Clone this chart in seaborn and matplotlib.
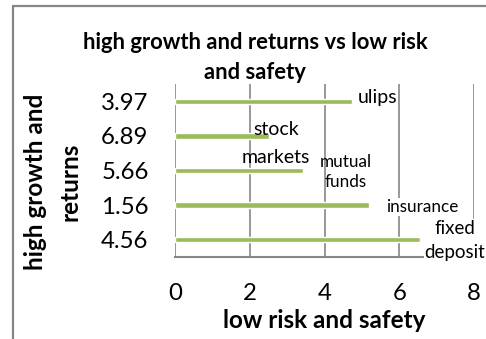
import matplotlib
matplotlib.use("Agg")
import matplotlib.pyplot as plt
from matplotlib.lines import Line2D
import seaborn as sns
import pandas as pd

# Category labels on the y axis (top to bottom), bar lengths and bar names
growth_labels = ["3.97", "6.89", "5.66", "1.56", "4.56"]
risk_values = [4.73, 2.51, 3.42, 5.19, 6.55]
instruments = ["ulips", "stock\nmarkets", "mutual\nfunds", "insurance", "fixed\ndeposit"]
x_ticks = [0, 2, 4, 6, 8]

GREEN = "#9BBB59"
GREY = "#868686"

sns.set_theme(style="white")
plt.rcParams["font.family"] = ["Lato", "DejaVu Sans"]

df = pd.DataFrame({"growth": growth_labels, "risk": risk_values, "name": instruments})

fig = plt.figure(figsize=(4.86, 3.39), dpi=100)
W, H = 486, 339
ax = fig.add_axes([175 / W, 1 - 257 / H, (474 - 175) / W, (257 - 84) / H])

sns.barplot(data=df, x="risk", y="growth", order=growth_labels, orient="h",
            color=GREEN, saturation=1, width=0.16, ax=ax, zorder=2)

ax.set_xlim(0, 8)
ax.set_xticks(x_ticks)
ax.set_xticklabels([str(t) for t in x_ticks])
ax.grid(axis="x", color=GREY, lw=1.2, zorder=0)
ax.grid(axis="y", visible=False)
for side in ["top", "right", "left"]:
    ax.spines[side].set_visible(False)
ax.spines["bottom"].set_color(GREY)
ax.spines["bottom"].set_linewidth(1.5)
ax.set_axisbelow(True)

ax.tick_params(axis="y", length=0, pad=19, labelsize=17.3, labelcolor="black")
ax.tick_params(axis="x", length=0, pad=19, labelsize=17.3, labelcolor="black")

ax.set_xlabel("low risk and safety", fontsize=17.5, fontweight="bold", color="black")
ax.xaxis.label.set_va("center")
ax.xaxis.set_label_coords(0.5, (257 - 320) / 173)
ax.set_ylabel("high growth and\nreturns", fontsize=17.5, fontweight="bold",
              color="black", linespacing=1.6)
ax.yaxis.label.set_va("center")
ax.yaxis.set_label_coords((53 - 175) / 299, (257 - 182) / 173)

fig.text(255 / W, 1 - 57.5 / H, "high growth and returns vs low risk\nand safety",
         ha="center", va="center", fontsize=15.8, fontweight="bold",
         linespacing=1.5, color="black")

# bar name labels: (dx px, dy px down, ha, fontsize, line spacing, white box)
label_style = [
    (6, -4, "left", 14, 1.3, False),
    (7, 7.5, "center", 14, 1.8, False),
    (43, 1.5, "center", 12.3, 1.3, False),
    (17, 2, "left", 12.3, 1.3, True),
    (35, 0.5, "center", 13.5, 1.5, True),
]
for i, (name, val) in enumerate(zip(instruments, risk_values)):
    dx, dy, ha, fs, ls, box = label_style[i]
    bbox = dict(facecolor="white", edgecolor="none", pad=0.5) if box else None
    ax.annotate(name, xy=(val, i), xytext=(dx * 0.72, -dy * 0.72),
                textcoords="offset points", ha=ha, va="center", fontsize=fs,
                linespacing=ls, color="black", bbox=bbox,
                annotation_clip=False, zorder=5)

# outer chart frame (left and top edges)
fig.add_artist(Line2D([13 / W, 13 / W], [0, 1 - 6 / H], transform=fig.transFigure,
                      color=GREY, lw=1.6))
fig.add_artist(Line2D([13 / W, 1], [1 - 6 / H, 1 - 6 / H], transform=fig.transFigure,
                      color=GREY, lw=1.6))

fig.savefig("out.png", dpi=100)
